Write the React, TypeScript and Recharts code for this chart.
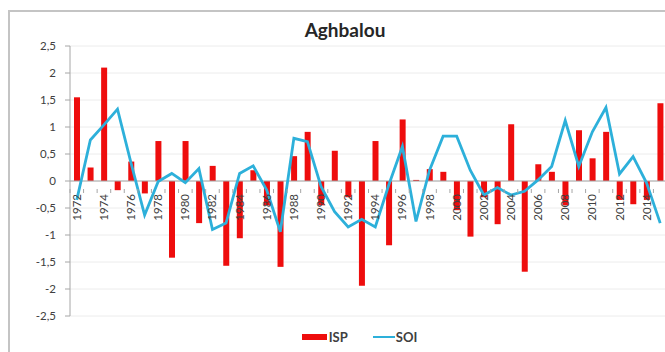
import React from "react";
import {
  ComposedChart,
  Bar,
  Line,
  XAxis,
  YAxis,
  CartesianGrid,
  ReferenceLine,
  Legend,
} from "recharts";

const years = [
  "1972", "1973", "1974", "1975", "1976", "1977", "1978", "1979", "1980", "1981",
  "1982", "1983", "1984", "1985", "1986", "1987", "1988", "1989", "1990", "1991",
  "1992", "1993", "1994", "1995", "1996", "1997", "1998", "1999", "2000", "2001",
  "2002", "2003", "2004", "2005", "2006", "2007", "2008", "2009", "2010", "2011",
  "2012", "2013", "2014", "2015",
];

const ispValues = [
  1.55, 0.25, 2.1, -0.17, 0.36, -0.23, 0.74, -1.42, 0.74, -0.78,
  0.28, -1.57, -1.06, 0.2, -0.45, -1.59, 0.46, 0.91, -0.45, 0.56,
  -0.3, -1.94, 0.74, -1.19, 1.14, 0.02, 0.22, 0.17, -0.54, -1.03,
  -0.3, -0.8, 1.05, -1.68, 0.31, 0.17, -0.45, 0.94, 0.42, 0.91,
  -0.35, -0.43, -0.35, 1.44,
];

const soiValues = [
  -0.35, 0.76, 1.04, 1.33, 0.33, -0.63, -0.01, 0.14, -0.03, 0.23,
  -0.9, -0.78, 0.14, 0.28, -0.17, -0.94, 0.79, 0.73, -0.1, -0.57,
  -0.85, -0.71, -0.85, -0.07, 0.64, -0.75, 0.2, 0.83, 0.83, 0.2,
  -0.26, -0.12, -0.26, -0.19, 0.02, 0.27, 1.12, 0.27, 0.91, 1.36,
  0.13, 0.45, -0.04, -0.78,
];

const yTicks = [2.5, 2, 1.5, 1, 0.5, 0, -0.5, -1, -1.5, -2, -2.5];

const labeledYears = [
  "1972", "1974", "1976", "1978", "1980", "1982", "1984", "1986", "1988", "1990",
  "1992", "1994", "1996", "1998", "2000", "2002", "2004", "2006", "2008", "2010",
  "2012", "2014",
];

const data = years.map((y, i) => ({ year: y, ISP: ispValues[i], SOI: soiValues[i] }));

const CHART_W = 680;
const CHART_H = 352;
const MARGIN = { top: 46, right: 13, left: 0, bottom: 35 };
const Y_AXIS_W = 70;
const X_AXIS_H = 1;
const PLOT_W = CHART_W - MARGIN.left - MARGIN.right - Y_AXIS_W;
const PLOT_H = CHART_H - MARGIN.top - MARGIN.bottom - X_AXIS_H;
const BAND = PLOT_W / years.length;

const RED = "#ee0d0d";
const BLUE = "#2db0da";
const FONT = "Lato, 'Open Sans', 'Liberation Sans', sans-serif";

const fmt = (v: number) => String(v).replace(".", ",");

const CategoryTick = (props: any) => {
  const { x, y, payload } = props;
  // the category axis crosses the value axis at 0 (middle of symmetric domain)
  const zeroY = y - PLOT_H / 2;
  const label = payload.value as string;
  const show = labeledYears.includes(label);
  const left = x - BAND / 2;
  return (
    <g>
      <line x1={left} x2={left} y1={zeroY} y2={zeroY + 4} stroke="#a6a6a6" strokeWidth={1} />
      {show && (
        <text
          x={x + 4}
          y={zeroY + 5}
          transform={`rotate(-90 ${x + 4} ${zeroY + 5})`}
          textAnchor="end"
          fontSize={11.5}
          fill="#404040"
          fontFamily={FONT}
        >
          {label}
        </text>
      )}
    </g>
  );
};

const LegendContent = () => (
  <div
    style={{
      display: "flex",
      justifyContent: "center",
      alignItems: "center",
      fontFamily: FONT,
      fontWeight: 700,
      fontSize: 13,
      color: "#404040",
    }}
  >
    <span style={{ display: "inline-block", width: 25, height: 6, background: RED, marginRight: 2 }} />
    <span style={{ marginRight: 25 }}>ISP</span>
    <span style={{ display: "inline-block", width: 22, height: 2.5, background: BLUE, marginRight: 1 }} />
    <span>SOI</span>
  </div>
);

export default function App() {
  return (
    <div
      style={{
        position: "absolute",
        left: 0,
        top: 0,
        width: 665,
        height: 352,
        overflow: "hidden",
        background: "#fff",
      }}
    >
      <div
        style={{
          position: "absolute",
          left: 8,
          top: 10,
          width: 700,
          height: 400,
          borderTop: "2px solid #c4c4c4",
          borderLeft: "2px solid #c4c4c4",
        }}
      />
      <div
        style={{
          position: "absolute",
          left: 0,
          top: 18,
          width: 690,
          textAlign: "center",
          fontFamily: FONT,
          fontWeight: 700,
          fontSize: 19,
          color: "#262626",
        }}
      >
        Aghbalou
      </div>
      <div style={{ position: "absolute", left: 0, top: 0 }}>
        <ComposedChart width={CHART_W} height={CHART_H} data={data} margin={MARGIN}>
          <CartesianGrid vertical={false} stroke="#ececec" strokeWidth={1} />
          <XAxis
            dataKey="year"
            height={X_AXIS_H}
            axisLine={false}
            tickLine={false}
            interval={0}
            tick={<CategoryTick />}
          />
          <YAxis
            width={Y_AXIS_W}
            domain={[-2.5, 2.5]}
            ticks={yTicks}
            tickFormatter={fmt}
            axisLine={{ stroke: "#a6a6a6" }}
            tickLine={{ stroke: "#a6a6a6" }}
            tickSize={5}
            tickMargin={9}
            tick={{ fontSize: 11.5, fill: "#404040", fontFamily: FONT }}
          />
          <ReferenceLine y={0} stroke="#a6a6a6" strokeWidth={1} />
          <Bar dataKey="ISP" fill={RED} barSize={6} isAnimationActive={false} />
          <Line
            dataKey="SOI"
            type="linear"
            stroke={BLUE}
            strokeWidth={2.8}
            dot={false}
            isAnimationActive={false}
          />
          <Legend
            verticalAlign="middle"
            align="center"
            content={<LegendContent />}
            wrapperStyle={{ position: "absolute", top: 329, left: 27, width: 665 }}
          />
        </ComposedChart>
      </div>
    </div>
  );
}
